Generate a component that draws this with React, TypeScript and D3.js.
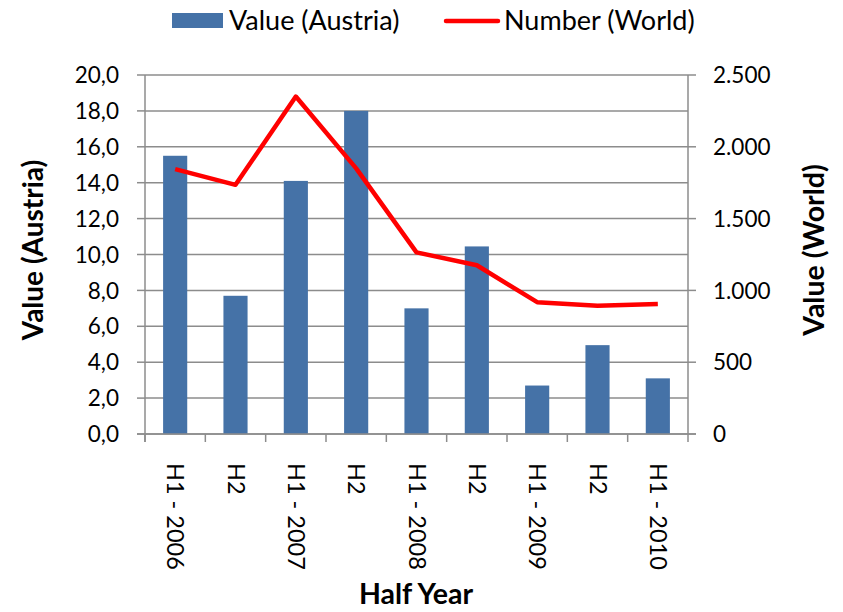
import React from "react";
import * as d3 from "d3";

const categories = ["H1 - 2006", "H2", "H1 - 2007", "H2", "H1 - 2008", "H2", "H1 - 2009", "H2", "H1 - 2010"];
const austriaValues = [15.5, 7.7, 14.1, 18.0, 7.0, 10.45, 2.7, 4.95, 3.1];
const worldValues = [1845, 1735, 2350, 1850, 1265, 1175, 918, 893, 905];
const leftTicks = [0, 2, 4, 6, 8, 10, 12, 14, 16, 18, 20];
const rightTicks = [0, 500, 1000, 1500, 2000, 2500];

const FONT = "Lato, 'Open Sans', sans-serif";

export default function App() {
  const W = 843;
  const H = 612;
  const left = 145;
  const right = 688;
  const top = 75;
  const bottom = 434;

  const x = d3
    .scaleBand()
    .domain(categories.map((_, i) => String(i)))
    .range([left, right])
    .paddingInner(0.6)
    .paddingOuter(0.3);
  const step = (right - left) / categories.length;
  const yL = d3.scaleLinear().domain([0, 20]).range([bottom, top]);
  const yR = d3.scaleLinear().domain([0, 2500]).range([bottom, top]);

  const line = d3
    .line<number>()
    .x((_, i) => (x(String(i)) as number) + x.bandwidth() / 2)
    .y(d => yR(d));

  const fmtL = (v: number) => v.toFixed(1).replace(".", ",");
  const fmtR = (v: number) => d3.format(",")(v).replace(/,/g, ".");

  return (
    <svg width={W} height={H} style={{ position: "absolute", left: 0, top: 0 }} fontFamily={FONT}>
      {/* gridlines */}
      {leftTicks.map(t => (
        <line key={"g" + t} x1={left} x2={right} y1={yL(t)} y2={yL(t)} stroke="#8c8c8c" strokeWidth={1.5} />
      ))}
      {/* bars */}
      {austriaValues.map((v, i) => (
        <rect
          key={"b" + i}
          x={x(String(i))}
          y={yL(v)}
          width={x.bandwidth()}
          height={bottom - yL(v)}
          fill="#4572a7"
        />
      ))}
      {/* axes */}
      <line x1={left} x2={left} y1={top} y2={bottom + 8} stroke="#8c8c8c" strokeWidth={1.5} />
      <line x1={right} x2={right} y1={top} y2={bottom + 8} stroke="#8c8c8c" strokeWidth={1.5} />
      <line x1={left - 8} x2={right + 8} y1={bottom} y2={bottom} stroke="#8c8c8c" strokeWidth={1.5} />
      {leftTicks.map(t => (
        <g key={"lt" + t}>
          <line x1={left - 8} x2={left} y1={yL(t)} y2={yL(t)} stroke="#8c8c8c" strokeWidth={1.5} />
          <text x={119} y={yL(t)} dy="0.36em" textAnchor="end" fontSize={22.5} fill="#000">
            {fmtL(t)}
          </text>
        </g>
      ))}
      {rightTicks.map(t => (
        <g key={"rt" + t}>
          <line x1={right} x2={right + 8} y1={yR(t)} y2={yR(t)} stroke="#8c8c8c" strokeWidth={1.5} />
          <text x={713} y={yR(t)} dy="0.36em" textAnchor="start" fontSize={22.5} fill="#000">
            {fmtR(t)}
          </text>
        </g>
      ))}
      {categories.map((_, i) => (
        <line
          key={"xt" + i}
          x1={left + step * i}
          x2={left + step * i}
          y1={bottom}
          y2={bottom + 8}
          stroke="#8c8c8c"
          strokeWidth={1.5}
        />
      ))}
      {/* line series */}
      <path d={line(worldValues) || ""} fill="none" stroke="#ff0000" strokeWidth={4.5} strokeLinejoin="round" />
      {/* category labels */}
      {categories.map((c, i) => {
        const cx = (x(String(i)) as number) + x.bandwidth() / 2;
        return (
          <text
            key={"c" + i}
            transform={`translate(${cx - 8},463) rotate(90)`}
            textAnchor="start"
            fontSize={23.5}
            fill="#000"
          >
            {c}
          </text>
        );
      })}
      {/* titles */}
      <text x={416} y={604} textAnchor="middle" fontSize={28.5} fontWeight="bold">
        Half Year
      </text>
      <text transform={`translate(43,250) rotate(-90)`} textAnchor="middle" fontSize={28} fontWeight="bold">
        Value (Austria)
      </text>
      <text transform={`translate(824,250) rotate(-90)`} textAnchor="middle" fontSize={28.5} fontWeight="bold">
        Value (World)
      </text>
      {/* legend */}
      <rect x={172} y={13} width={51} height={15} fill="#4572a7" />
      <text x={229} y={30} fontSize={27}>
        Value (Austria)
      </text>
      <line x1={446} x2={498} y1={21} y2={21} stroke="#ff0000" strokeWidth={4.5} strokeLinecap="round" />
      <text x={504} y={30} fontSize={27}>
        Number (World)
      </text>
    </svg>
  );
}
